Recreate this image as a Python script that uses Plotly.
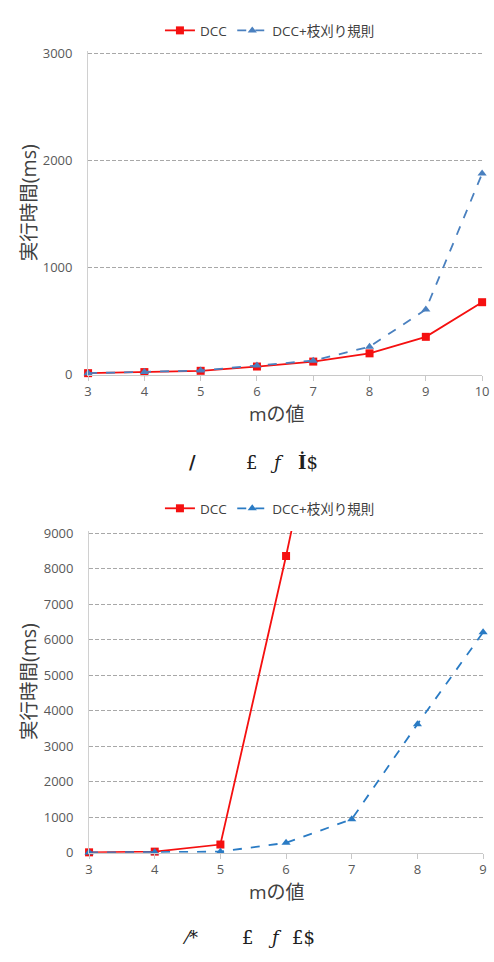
import plotly.graph_objects as go

# Top chart data
m_top = [3, 4, 5, 6, 7, 8, 9, 10]
dcc_top = [15, 25, 37, 77, 123, 200, 354, 677]
prune_top = [15, 25, 40, 86, 132, 262, 609, 1877]

# Bottom chart data
m_bot = [3, 4, 5, 6, 7]
dcc_bot = [10, 30, 230, 8355, 17000]
m_bot2 = [3, 4, 5, 6, 7, 8, 9]
prune_bot = [5, 15, 30, 277, 942, 3620, 6205]

name1 = "DCC"
name2 = "DCC+枝刈り規則"
ytitle = "実行時間(ms)"
xtitle = "mの値"

RED = "#F51010"
BLUE = "#4A80BF"
BLUE2 = "#2A7BC4"
FONT = "Open Sans, Noto Sans CJK JP, sans-serif"
W, H = 494, 962

def py(p):
    return 1 - p / H

def px(p):
    return min(1.0, p / W)

fig = go.Figure()

fig.add_trace(go.Scatter(x=m_top, y=dcc_top, name=name1, mode="lines+markers",
                         line=dict(color=RED, width=1.8),
                         marker=dict(symbol="square", size=8, color=RED),
                         xaxis="x", yaxis="y", legend="legend", cliponaxis=False))
fig.add_trace(go.Scatter(x=m_top, y=prune_top, name=name2, mode="lines+markers",
                         line=dict(color=BLUE, width=1.8, dash="dash"),
                         marker=dict(symbol="triangle-up", size=8, color=BLUE),
                         xaxis="x", yaxis="y", legend="legend", cliponaxis=False))
fig.add_trace(go.Scatter(x=m_bot, y=dcc_bot, name=name1, mode="lines+markers",
                         line=dict(color=RED, width=1.8),
                         marker=dict(symbol="square", size=8, color=RED),
                         xaxis="x2", yaxis="y2", legend="legend2", cliponaxis=False))
fig.add_trace(go.Scatter(x=m_bot2, y=prune_bot, name=name2, mode="lines+markers",
                         line=dict(color=BLUE2, width=1.8, dash="dash"),
                         marker=dict(symbol="triangle-up", size=8, color=BLUE2),
                         xaxis="x2", yaxis="y2", legend="legend2", cliponaxis=False))

tickfont = dict(family=FONT, size=13, color="#595959")
yax_common = dict(showgrid=True, gridcolor="#A8A8A8", griddash="4px,2px", gridwidth=1,
                  zeroline=False, showline=True, linecolor="#D0D0D0", linewidth=1,
                  ticks="", tickfont=tickfont, ticklabelstandoff=12, fixedrange=True)
xax_common = dict(showgrid=False, zeroline=False, showline=True, linecolor="#C8C8C8",
                  linewidth=1, ticks="outside", ticklen=5, tickcolor="#C8C8C8",
                  tickfont=tickfont, dtick=1, ticklabeloverflow="allow")

fig.update_layout(
    width=W, height=H,
    margin=dict(l=0, r=0, t=0, b=0),
    paper_bgcolor="white", plot_bgcolor="white",
    showlegend=True,
    xaxis=dict(domain=[px(86), px(489)], range=[3, 10], anchor="y", **xax_common),
    yaxis=dict(domain=[py(374), py(44.8)], range=[0, 3020], tickvals=[0, 1000, 2000, 3000],
               anchor="x", **yax_common),
    xaxis2=dict(domain=[px(87), px(490)], range=[3, 9], anchor="y2", **xax_common),
    yaxis2=dict(domain=[py(860), py(532.8)], range=[0, 9060],
                tickvals=[0, 1000, 2000, 3000, 4000, 5000, 6000, 7000, 8000, 9000],
                anchor="x2", **yax_common),
    legend=dict(orientation="h", x=px(272), xanchor="center", y=py(24), yanchor="middle",
                font=dict(family=FONT, size=13.5, color="#404040"), itemwidth=30,
                bgcolor="rgba(0,0,0,0)"),
    legend2=dict(orientation="h", x=px(272), xanchor="center", y=py(510), yanchor="middle",
                 font=dict(family=FONT, size=13.5, color="#404040"), itemwidth=30,
                 bgcolor="rgba(0,0,0,0)"),
)

ann = []
# axis titles
for yc in (199, 686):
    ann.append(dict(text=ytitle, x=px(25), y=py(yc), xref="paper", yref="paper",
                    xanchor="center", yanchor="middle",
                    textangle=-90, showarrow=False,
                    font=dict(family=FONT, size=19.5, color="#404040")))
for yc in (414, 900):
    ann.append(dict(text=xtitle, x=px(279), y=py(yc), xref="paper", yref="paper",
                    xanchor="center", yanchor="middle",
                    showarrow=False, font=dict(family=FONT, size=19, color="#404040")))

# captions (garbled glyphs in the original)
cap_font = dict(family="DejaVu Serif, Liberation Serif, serif", size=18, color="#202020")
caps = [
    ("<b>/</b>", 193, 463), ("£", 253, 463), ("<i>ƒ</i>", 279, 463), ("<b>İ</b>$", 311, 463),
    ("⁄*", 190, 946), ("£", 249, 946), ("<i>ƒ</i>", 277, 946), ("£$", 306, 946),
]
for t, xc, yc in caps:
    ann.append(dict(text=t, x=px(xc), y=py(yc), xref="paper", yref="paper",
                    xanchor="center", yanchor="middle",
                    showarrow=False, font=cap_font))

fig.update_layout(annotations=ann)

fig.write_html("out.html")
